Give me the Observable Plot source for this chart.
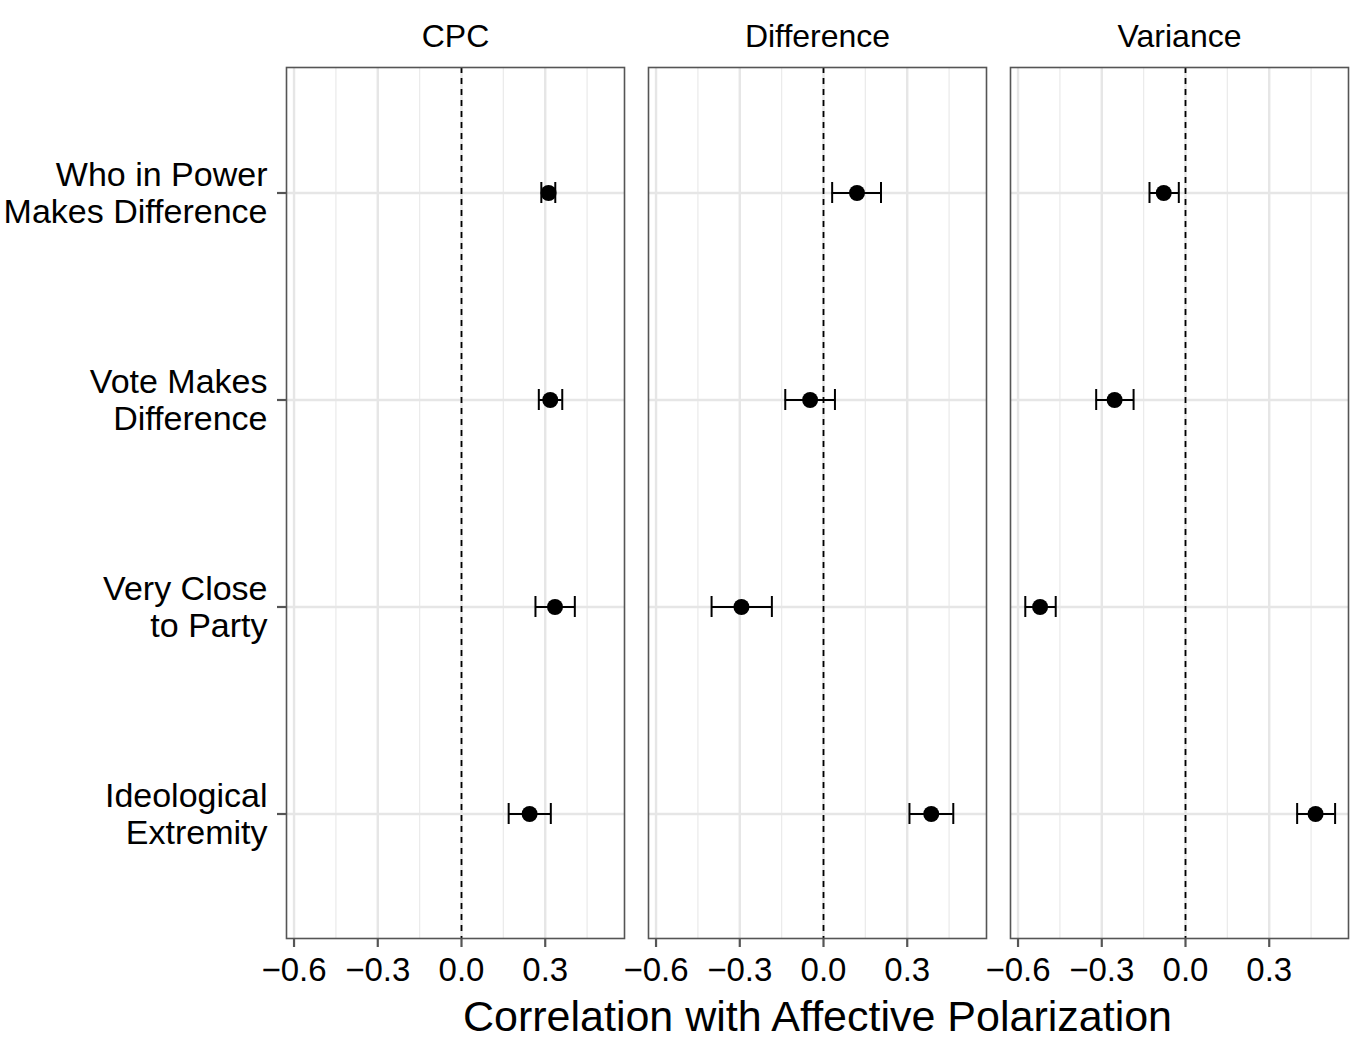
<!DOCTYPE html>
<html>
<head>
<meta charset="utf-8">
<script src="https://cdn.jsdelivr.net/npm/d3@7"></script>
<script src="https://cdn.jsdelivr.net/npm/@observablehq/plot@0.6"></script>
<style>
  html, body { margin: 0; padding: 0; background: #fff; }
  #chart { font-family: "Liberation Sans", Arial, sans-serif; }
</style>
</head>
<body>
<div id="chart"></div>
<script>
const measures = ["CPC", "Difference", "Variance"];
const items = ["Who in Power", "Vote Makes", "Very Close", "Ideological"];
const itemLabels = ["Who in Power\nMakes Difference", "Vote Makes\nDifference", "Very Close\nto Party", "Ideological\nExtremity"];

const cpcEst = [0.312, 0.318, 0.335, 0.244];
const cpcLo  = [0.286, 0.277, 0.265, 0.169];
const cpcHi  = [0.336, 0.361, 0.406, 0.320];

const diffEst = [0.120, -0.048, -0.294, 0.386];
const diffLo  = [0.031, -0.137, -0.401, 0.308];
const diffHi  = [0.206, 0.041, -0.185, 0.465];

const varEst = [-0.078, -0.254, -0.521, 0.466];
const varLo  = [-0.129, -0.320, -0.574, 0.400];
const varHi  = [-0.024, -0.186, -0.465, 0.536];

const xTicks = [-0.6, -0.3, 0.0, 0.3];
const xMinorTicks = [-0.45, -0.15, 0.15, 0.45];
const xTitle = "Correlation with Affective Polarization";

const ests = [cpcEst, diffEst, varEst];
const los = [cpcLo, diffLo, varLo];
const his = [cpcHi, diffHi, varHi];

const data = measures.flatMap((m, j) => items.map((it, i) => ({
  measure: m, item: it, est: ests[j][i], lo: los[j][i], hi: his[j][i]
})));

const labelOf = new Map(items.map((it, i) => [it, itemLabels[i]]));

const chart = Plot.plot({
  width: 1351,
  height: 1053,
  marginLeft: 286,
  marginRight: 2,
  marginTop: 67,
  marginBottom: 115,
  style: { fontFamily: "Liberation Sans, Arial, sans-serif", background: "white", color: "black" },
  fx: { domain: measures, paddingInner: 0.066, paddingOuter: 0, label: null },
  x: { domain: [-0.627, 0.584], label: null },
  y: { type: "band", domain: items, paddingInner: 0.899, paddingOuter: 0.5495, label: null },
  marks: [
    Plot.gridX({ ticks: xMinorTicks, stroke: "#EBEBEB", strokeOpacity: 1, strokeWidth: 1.3 }),
    Plot.gridX({ ticks: xTicks, stroke: "#E6E6E6", strokeOpacity: 1, strokeWidth: 2.4 }),
    Plot.gridY({ stroke: "#E6E6E6", strokeOpacity: 1, strokeWidth: 2.6 }),
    Plot.ruleX([0], { stroke: "black", strokeWidth: 1.8, strokeDasharray: "6,5" }),
    Plot.ruleY(data, { fx: "measure", y: "item", x1: "lo", x2: "hi", stroke: "black", strokeWidth: 2 }),
    Plot.tickX(data, { fx: "measure", y: "item", x: "lo", stroke: "black", strokeWidth: 2 }),
    Plot.tickX(data, { fx: "measure", y: "item", x: "hi", stroke: "black", strokeWidth: 2 }),
    Plot.dot(data, { fx: "measure", y: "item", x: "est", r: 8, fill: "black", stroke: "none" }),
    Plot.frame({ stroke: "#555", strokeWidth: 1.6 }),
    Plot.axisX({ ticks: xTicks, tickFormat: d3.format(".1f"), tickSize: 9, tickPadding: 10,
      stroke: "#555", strokeWidth: 2.2, fill: "black", fontSize: 33, label: null }),
    Plot.axisY({ tickSize: 9, tickPadding: 10, tickFormat: d => labelOf.get(d),
      stroke: "#555", strokeWidth: 2.2, fill: "black", fontSize: 34, lineHeight: 1.08, label: null }),
    Plot.axisFx({ anchor: "top", tickSize: 0, tickPadding: 21, fontSize: 32, fill: "black", label: null }),
    Plot.text([xTitle], { fx: ["Difference"], text: d => d, frameAnchor: "bottom", lineAnchor: "middle",
      dy: 79, fontSize: 43, fill: "black" })
  ]
});

document.getElementById("chart").appendChild(chart);
</script>
</body>
</html>
